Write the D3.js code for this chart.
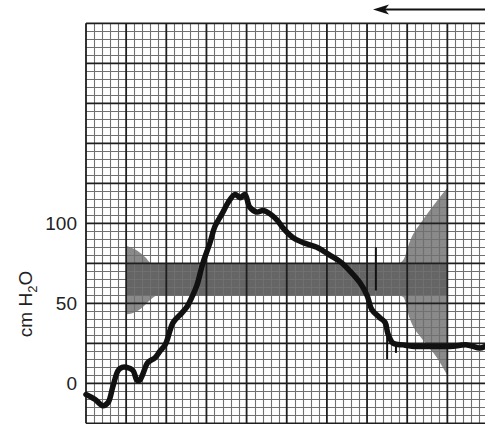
<!DOCTYPE html>
<html><head><meta charset="utf-8">
<script src="https://cdn.jsdelivr.net/npm/d3@7"></script>
<style>html,body{margin:0;padding:0;background:#fff;overflow:hidden}</style>
</head><body><svg id="c" width="485" height="424"></svg>
<script>
// ---- data ----
const traceT = [0,0.22,0.42,0.55,0.67,0.80,0.90,1.02,1.17,1.27,1.34,1.42,1.54,1.72,1.84,1.97,2.02,2.17,2.39,2.52,2.64,2.76,2.91,3.09,3.21,3.39,3.54,3.71,3.84,3.96,4.08,4.26,4.41,4.58,4.76,4.91,5.16,5.40,5.75,6.08,6.33,6.58,6.82,7.00,7.12,7.32,7.45,7.52,7.65,7.90,8.24,8.64,9.07,9.49,9.81,9.94];
const traceV = [-7,-10,-14,-12,-2,8,10,10,8,2,2,6,13,16,20,24,27,38,44,48,54,61,75,88,98,106,113,118,116,118,110,107,108,106,102,97,91,88,85,80,76,70,63,55,46,41,38,31,25,24,23,23,23,24,22,23];
const spikeT = [7.22, 7.50, 7.72];
const spikeTop = [85, 33, 25];
const spikeBottom = [58, 15, 19];
const bandStart = 1, bandEnd = 9, bandLow = 55, bandHigh = 75;
const funnelT = [1.0, 1.27, 1.47, 1.64, 1.8, 7.77, 7.90, 8.07, 8.39, 8.74, 9.0];
const funnelHigh = [86, 83, 79, 75, 75, 75, 77, 89, 102, 114, 122];
const funnelLow = [43, 45, 49, 53, 55, 55, 54, 40, 27, 16, 5];
const yTicks = [0, 50, 100];
const yLabel = ["cm H", "2", "O"];

// ---- scales ----
const svg = d3.select("#c");
const x = d3.scaleLinear().domain([0, 10]).range([86, 487.5]);
const y = d3.scaleLinear().domain([-25, 225]).range([423.3, 23.3]);

// shaded funnel (lighter) and band (darker)
const funnel = funnelT.map((t,i)=>({t, hi: funnelHigh[i], lo: funnelLow[i]}));
svg.append("path").datum(funnel)
  .attr("d", d3.area().x(d=>x(d.t)).y0(d=>y(d.lo)).y1(d=>y(d.hi)).curve(d3.curveMonotoneX))
  .attr("fill", "#8a8a8a");
svg.append("rect")
  .attr("x", x(bandStart)).attr("width", x(bandEnd)-x(bandStart))
  .attr("y", y(bandHigh)).attr("height", y(bandLow)-y(bandHigh))
  .attr("fill", "#656565");

// grid
const g = svg.append("g");
const minorX = d3.range(0, 10.01, 0.2), minorY = d3.range(-25, 226, 5);
g.selectAll(".mx").data(minorX.filter(v=>Math.abs(v-Math.round(v))>0.01)).join("line")
  .attr("x1", d=>Math.round(x(d))+0.5).attr("x2", d=>Math.round(x(d))+0.5)
  .attr("y1", y(225)).attr("y2", y(-25)).attr("stroke", "#707070").attr("stroke-width", 1.1);
g.selectAll(".my").data(minorY.filter(v=>v%25!==0)).join("line")
  .attr("y1", d=>Math.round(y(d))+0.5).attr("y2", d=>Math.round(y(d))+0.5)
  .attr("x1", x(0)).attr("x2", x(10)).attr("stroke", "#707070").attr("stroke-width", 1.1);
g.selectAll(".Mx").data(d3.range(0, 11, 1)).join("line")
  .attr("x1", d=>x(d)).attr("x2", d=>x(d))
  .attr("y1", y(225)).attr("y2", y(-25)).attr("stroke", "#1e1e1e").attr("stroke-width", 1.8);
g.selectAll(".My").data(d3.range(-25, 226, 25)).join("line")
  .attr("y1", d=>y(d)).attr("y2", d=>y(d))
  .attr("x1", x(0)).attr("x2", x(10)).attr("stroke", "#1e1e1e").attr("stroke-width", 1.8);

// spikes
svg.selectAll(".sp").data(spikeT).join("line")
  .attr("x1", d=>x(d)).attr("x2", d=>x(d))
  .attr("y1", (d,i)=>y(spikeTop[i])).attr("y2", (d,i)=>y(spikeBottom[i]))
  .attr("stroke", "#111").attr("stroke-width", 2);

// trace
const trace = traceT.map((t,i)=>({t, v: traceV[i]}));
svg.append("path").datum(trace)
  .attr("d", d3.line().x(d=>x(d.t)).y(d=>y(d.v)).curve(d3.curveCatmullRom))
  .attr("fill", "none").attr("stroke", "#111").attr("stroke-width", 5.5)
  .attr("stroke-linejoin", "round").attr("stroke-linecap", "round");

// y tick labels
svg.selectAll(".yt").data(yTicks).join("text")
  .attr("x", 77).attr("y", d=>y(d)).attr("dy", "0.36em")
  .attr("text-anchor", "end").attr("font-family", "Liberation Sans, Arial, sans-serif")
  .attr("font-size", 19).attr("fill", "#222").text(d=>d);

// y axis title
const tt = svg.append("text")
  .attr("transform", "translate(32,304) rotate(-90)")
  .attr("text-anchor", "middle").attr("font-family", "Liberation Sans, Arial, sans-serif")
  .attr("font-size", 19).attr("fill", "#222");
tt.append("tspan").text(yLabel[0]);
tt.append("tspan").attr("font-size", 13).attr("dy", 5).text(yLabel[1]);
tt.append("tspan").attr("dy", -5).text(yLabel[2]);

// direction arrow
svg.append("line").attr("x1", 382).attr("x2", 490).attr("y1", 9.5).attr("y2", 9.5)
  .attr("stroke", "#111").attr("stroke-width", 2.2);
svg.append("path").attr("d", "M373,9.5 L389,4.5 L385,9.5 L389,14.5 Z").attr("fill", "#111");
</script></body></html>
